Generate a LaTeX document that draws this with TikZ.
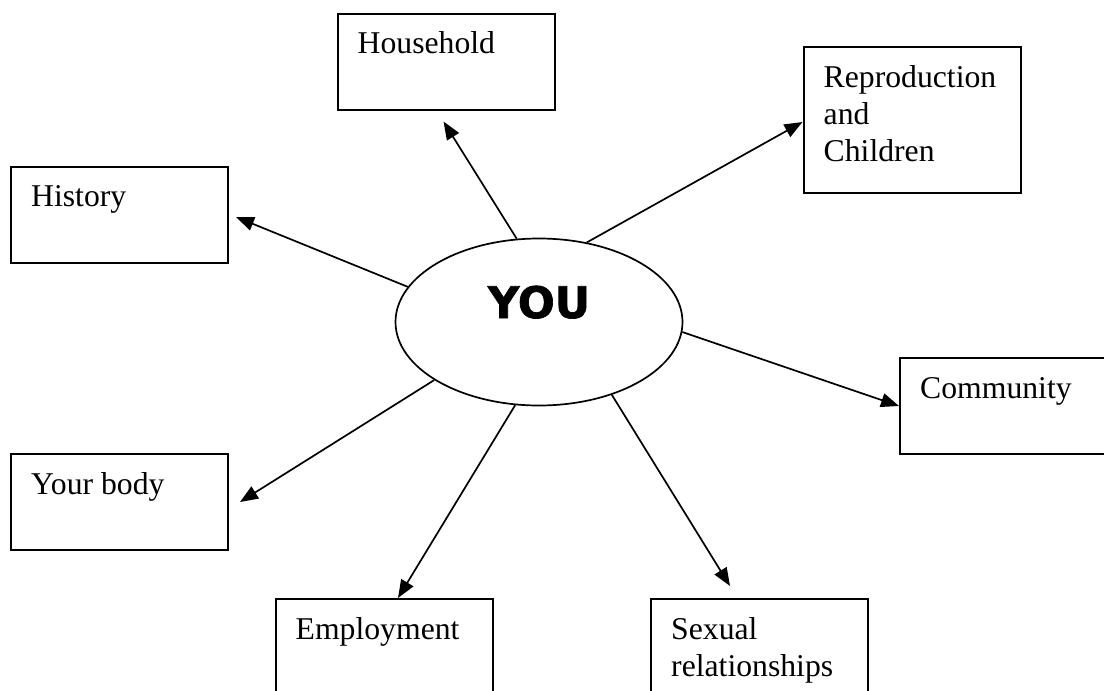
\documentclass[tikz,border=0pt]{standalone}
\usepackage{fontspec}
\setmainfont{Liberation Serif}
\newfontfamily\youfont{DejaVu Sans}[BoldFeatures={FakeBold=1.5}]
\usetikzlibrary{arrows.meta,shapes.geometric}

\begin{document}
\begin{tikzpicture}[>={Triangle[length=18pt,width=14pt]},x=1pt,y=-1pt,
  topic/.style={draw,line width=2pt,minimum width=217pt,minimum height=96pt,inner sep=0pt},
  lbl/.style={anchor=base west,inner sep=0pt,align=left,font=\fontsize{31.7}{37}\selectfont},
  link/.style={->,line width=1.7pt}]
\useasboundingbox (0,0) rectangle (1104,691);
% centre
\node[ellipse,draw,line width=1.7pt,minimum width=287pt,minimum height=167pt,inner sep=0pt] (you) at (539,322) {};
\node[anchor=base,inner sep=0pt,font=\youfont\bfseries\fontsize{43.5}{50}\selectfont] (you-t) at ([yshift=4pt]you.center) {YOU};
% topic boxes
\node[topic] (house) at (446,61.5) {};
\node[topic,minimum height=146pt] (repro) at (912,120) {};
\node[topic] (hist) at (119.5,214.5) {};
\node[topic] (comm) at (1008.5,406) {};
\node[topic] (body) at (119.5,502) {};
\node[topic] (empl) at (384,647) {};
\node[topic] (sex) at (759.5,647) {};
\foreach \b/\t/\d in {house/Household/41,repro/{Reproduction\\and\\Children}/115,hist/History/41,
  comm/Community/41,body/Your body/41,empl/Employment/41,sex/{Sexual\\relationships}/78} {
 \node[lbl] (\b-t) at ([shift={(21pt,-\d pt)}]\b.north west) {\t};
}
% links
\draw[link] (you.105.5) -- ([shift={(107pt,-11pt)}]house.south west);
\draw[link] (you.59) -- ([yshift=-2pt]repro.west);
\draw[link] (you.165.3) -- ([shift={(7pt,-2.5pt)}]hist.east);
\draw[link] (you.-4.8) -- (comm.west);
\draw[link] (you.209.5) -- ([xshift=11pt]body.east);
\draw[link] (you.254.7) -- ([xshift=14pt]empl.north);
\draw[link] (you.315) -- ([shift={(-29.5pt,12pt)}]sex.north);
\end{tikzpicture}
\end{document}
